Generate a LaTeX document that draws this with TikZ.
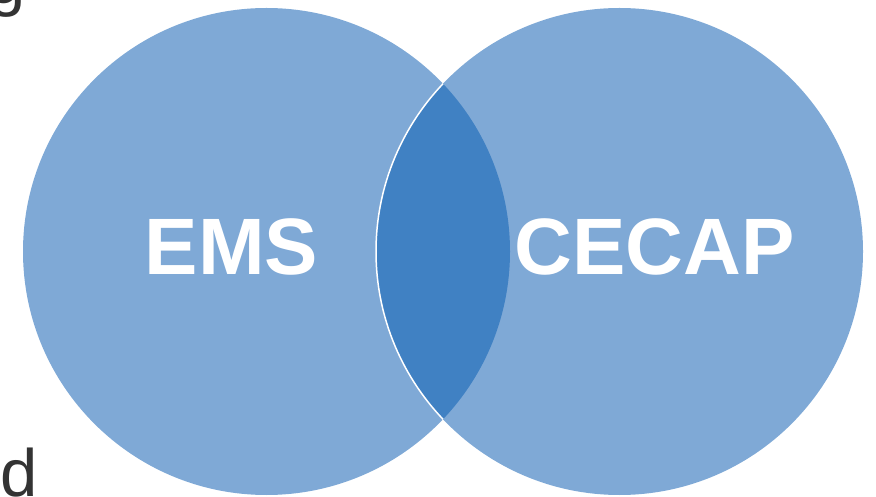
\documentclass[tikz,border=0pt]{standalone}
\usepackage{fontspec}
\setmainfont{Liberation Sans}
\definecolor{vennlight}{RGB}{127,169,214}
\definecolor{venndark}{RGB}{64,129,195}
\definecolor{textgray}{RGB}{51,51,51}

\begin{document}
\begin{tikzpicture}[x=1pt,y=1pt,
    every text node part/.style={align=center},
    setlabel/.style={text=white,font=\fontsize{80}{80}\selectfont\bfseries,inner sep=0pt,anchor=base},
    cutlabel/.style={text=textgray,font=\fontsize{67}{67}\selectfont,inner sep=0pt,anchor=base west}]

    \useasboundingbox (0,0) rectangle (876,496);

    \coordinate (CentEMS)   at (266.5,244.5);
    \coordinate (CentCECAP) at (619.5,244.5);

    \fill[vennlight] (CentEMS) circle (243.5);
    \fill[vennlight] (CentCECAP) circle (243.5);
    \begin{scope}
      \clip (CentEMS) circle (243.5);
      \fill[venndark] (CentCECAP) circle (243.5);
      \draw[white,line width=1.5pt] (CentCECAP) circle (243.5);
    \end{scope}

    \node[setlabel] (LabEMS)   at (231.5,221) {EMS};
    \node[setlabel] (LabCECAP) at (654.5,221) {CECAP};

    \node[cutlabel] (CutG) at (-12,492) {g};
    \node[cutlabel] (CutD) at (0,0) {d};
\end{tikzpicture}
\end{document}
